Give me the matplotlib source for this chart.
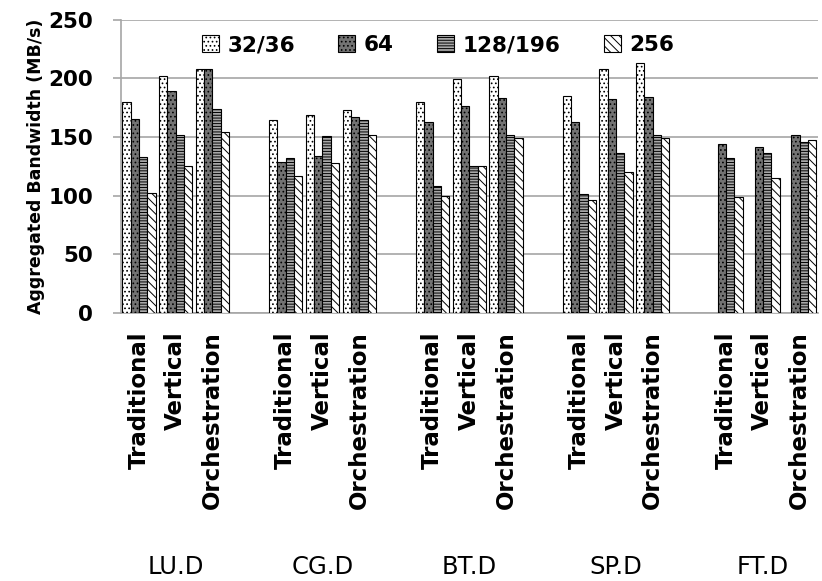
import numpy as np
import matplotlib
matplotlib.use("Agg")
import matplotlib.pyplot as plt
import matplotlib.transforms as mtransforms

plt.rcParams["font.family"] = ["DejaVu Sans"]
plt.rcParams["hatch.linewidth"] = 0.7

# Benchmarks, methods and process counts
benchmarks = ["LU.D", "CG.D", "BT.D", "SP.D", "FT.D"]
methods = ["Traditional", "Vertical", "Orchestration"]
series_names = ["32/36", "64", "128/196", "256"]

# Aggregated bandwidth (MB/s), order: benchmark x method
bw_32 = [180, 202, 208, 164, 169, 173, 180, 199, 202, 185, 208, 213, np.nan, np.nan, np.nan]
bw_64 = [165, 189, 208, 129, 134, 167, 163, 176, 183, 163, 182, 184, 144, 141, 152]
bw_128 = [133, 152, 174, 132, 151, 164, 108, 125, 152, 101, 136, 152, 132, 136, 146]
bw_256 = [102, 125, 154, 117, 128, 152, 100, 125, 149, 96, 120, 149, 99, 115, 147]

series = [bw_32, bw_64, bw_128, bw_256]
faces = ["white", "#737373", "#a8a8a8", "white"]
hatches = ["....", "....", "------", "\\\\\\\\"]

# one blank slot between benchmarks
slots = np.array([g * 4 + m for g in range(len(benchmarks)) for m in range(len(methods))])

fig = plt.figure(figsize=(8.22, 5.81), dpi=100)
ax = fig.add_axes([0.1468, 0.4613, 0.8482, 0.5051])

width = 0.227
handles = []
for i, vals in enumerate(series):
    b = ax.bar(slots + (i - 1.5) * width, vals, width, color=faces[i],
               edgecolor="black", linewidth=0.8, hatch=hatches[i],
               label=series_names[i], zorder=3)
    handles.append(b)

ax.set_xlim(-0.5, slots.max() + 0.5)
ax.set_ylim(0, 250)
ax.set_yticks(range(0, 251, 50))
ax.yaxis.grid(True, color="#a6a6a6", linewidth=1.2, zorder=0)
ax.set_axisbelow(True)
for s in ["top", "right"]:
    ax.spines[s].set_visible(False)
for s in ["left", "bottom"]:
    ax.spines[s].set_color("#a6a6a6")
    ax.spines[s].set_linewidth(1.2)

ax.tick_params(axis="y", length=6, color="#a6a6a6", width=1.2, pad=14,
               labelsize=15.5)
for t in ax.get_yticklabels():
    t.set_fontweight("bold")

ax.set_xticks(slots)
ax.set_xticklabels(methods * len(benchmarks), rotation=90, fontsize=16.5,
                   fontweight="bold", va="top", ha="center")
ax.tick_params(axis="x", length=0, pad=13)

trans = mtransforms.blended_transform_factory(ax.transData, ax.transAxes)
for g, name in enumerate(benchmarks):
    ax.text(g * 4 + 1, -0.865, name, transform=trans, ha="center",
            va="center", fontsize=17.5)

fig.text(36 / 822, 1 - 166 / 581, "Aggregated Bandwidth (MB/s)", rotation=90,
         ha="center", va="center", fontsize=12.5, fontweight="bold")

ax.legend(handles=handles, loc="center", bbox_to_anchor=(0.533, 0.9225),
          bbox_transform=fig.transFigure, ncol=4, frameon=False,
          handlelength=0.8, handleheight=0.8, handletextpad=0.4,
          columnspacing=2.0, prop={"weight": "bold", "size": 15.5})

fig.savefig("out.png", dpi=100)
